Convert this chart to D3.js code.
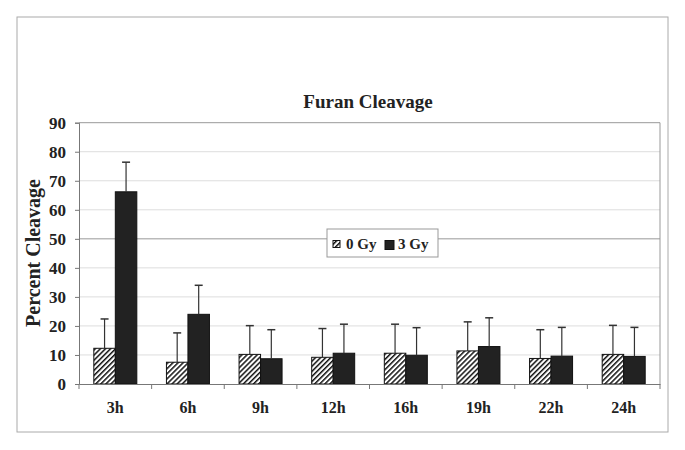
<!DOCTYPE html>
<html><head><meta charset="utf-8">
<script src="https://cdn.jsdelivr.net/npm/d3@7/dist/d3.min.js"></script>
<style>body{margin:0;background:#fff}svg{display:block}
text{font-family:"Liberation Serif","DejaVu Serif",serif !important;font-weight:bold;fill:#222}</style>
</head><body>
<script>
const categories = ["3h","6h","9h","12h","16h","19h","22h","24h"];
const seriesNames = ["0 Gy","3 Gy"];
const gy0 = [12.3, 7.5, 10.2, 9.2, 10.6, 11.4, 8.8, 10.2];
const gy0Err = [10.1, 10.1, 9.9, 9.9, 10.0, 10.0, 9.9, 10.0];
const gy3 = [66.2, 24.0, 8.7, 10.6, 9.9, 12.9, 9.6, 9.5];
const gy3Err = [10.2, 10.0, 10.0, 10.0, 9.5, 9.9, 9.9, 10.0];
const yTicks = [0,10,20,30,40,50,60,70,80,90];

const W = 685, H = 450;
const M = {left: 79, right: 660, top: 122.7, bottom: 384};
const svg = d3.select("body").append("svg").attr("width", W).attr("height", H);

const defs = svg.append("defs");
const pat = defs.append("pattern").attr("id","hatch").attr("patternUnits","userSpaceOnUse")
  .attr("width",3.6).attr("height",3.6).attr("patternTransform","rotate(45)");
pat.append("rect").attr("width",3.6).attr("height",3.6).attr("fill","#fff");
pat.append("rect").attr("x",0).attr("y",0).attr("width",1.5).attr("height",3.6).attr("fill","#111");

// outer border
svg.append("rect").attr("x",17).attr("y",17).attr("width",651).attr("height",415)
  .attr("fill","#fff").attr("stroke","#aaa").attr("stroke-width",1);

const x = d3.scaleBand().domain(categories).range([M.left, M.right]);
const y = d3.scaleLinear().domain([0,90]).range([M.bottom, M.top]);

// gridlines
svg.append("g").selectAll("line").data(yTicks.filter(d=>d>0)).join("line")
  .attr("x1",M.left).attr("x2",M.right).attr("y1",d=>y(d)).attr("y2",d=>y(d))
  .attr("stroke",d=>d===50||d===90?"#999":"#ddd").attr("stroke-width",1);
svg.append("line").attr("x1",M.right).attr("x2",M.right).attr("y1",M.top).attr("y2",M.bottom)
  .attr("stroke","#999");

const barW = 21.5;
const data = categories.map((c,i)=>({c, v:[gy0[i],gy3[i]], e:[gy0Err[i],gy3Err[i]]}));
const groups = svg.append("g").selectAll("g").data(data).join("g");
[0,1].forEach(s=>{
  groups.append("rect")
    .attr("x",d=>x(d.c)+x.bandwidth()/2 - barW + s*barW)
    .attr("y",d=>y(d.v[s])).attr("width",barW).attr("height",d=>y(0)-y(d.v[s]))
    .attr("fill", s===0 ? "url(#hatch)" : "#222").attr("stroke","#111").attr("stroke-width",1);
  groups.append("line")
    .attr("x1",d=>x(d.c)+x.bandwidth()/2 - barW/2 + s*barW)
    .attr("x2",d=>x(d.c)+x.bandwidth()/2 - barW/2 + s*barW)
    .attr("y1",d=>y(d.v[s])).attr("y2",d=>y(d.v[s]+d.e[s]))
    .attr("stroke","#333").attr("stroke-width",1.2);
  groups.append("line")
    .attr("x1",d=>x(d.c)+x.bandwidth()/2 - barW/2 + s*barW - 4)
    .attr("x2",d=>x(d.c)+x.bandwidth()/2 - barW/2 + s*barW + 4)
    .attr("y1",d=>y(d.v[s]+d.e[s])).attr("y2",d=>y(d.v[s]+d.e[s]))
    .attr("stroke","#333").attr("stroke-width",1.5);
});

// y axis
const yAx = svg.append("g").attr("transform",`translate(${M.left},0)`)
  .call(d3.axisLeft(y).tickValues(yTicks).tickSize(4).tickPadding(9));
yAx.select(".domain").attr("stroke","#777");
yAx.selectAll(".tick line").attr("stroke","#777");
yAx.selectAll("text").attr("font-size",17);

// x axis
const xAx = svg.append("g").attr("transform",`translate(0,${M.bottom})`)
  .call(d3.axisBottom(x).tickSize(0));
xAx.select(".domain").attr("stroke","#777");
xAx.selectAll("text").attr("font-size",16).attr("dy",null).attr("y",29);
svg.append("g").selectAll("line").data(categories.concat(["end"])).join("line")
  .attr("x1",(d,i)=>M.left + i*x.step()).attr("x2",(d,i)=>M.left + i*x.step())
  .attr("y1",M.bottom).attr("y2",M.bottom+5).attr("stroke","#777");

// title
svg.append("text").attr("x",368).attr("y",108).attr("text-anchor","middle")
  .attr("font-size",19).text("Furan Cleavage");
// y title
svg.append("text").attr("transform","translate(40,253) rotate(-90)").attr("text-anchor","middle")
  .attr("font-size",20).text("Percent Cleavage");

// legend
const lg = svg.append("g").attr("transform","translate(327,229)");
lg.append("rect").attr("width",111).attr("height",28).attr("fill","#fff").attr("stroke","#999");
const items = [{n:seriesNames[0], f:"url(#hatch)", x:6, w:7},{n:seriesNames[1], f:"#222", x:58, w:9}];
items.forEach(it=>{
  lg.append("rect").attr("x",it.x).attr("y",11.5).attr("width",it.w).attr("height",it.w)
    .attr("fill",it.f).attr("stroke","#111");
  lg.append("text").attr("x",it.x+13).attr("y",19.5).attr("font-size",15).text(it.n);
});
</script>
</body></html>
